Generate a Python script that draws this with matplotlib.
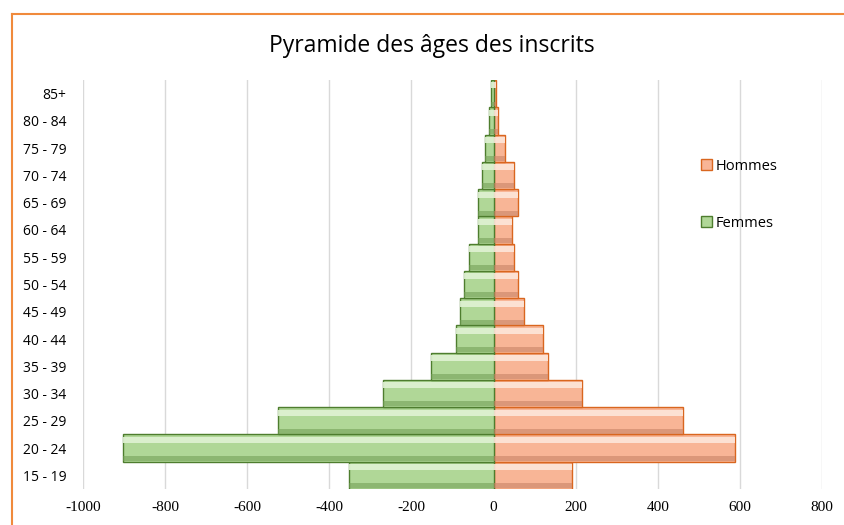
import matplotlib
matplotlib.use("Agg")
from matplotlib import pyplot as plt
from matplotlib.lines import Line2D
import numpy as np

groupes = ["15 - 19", "20 - 24", "25 - 29", "30 - 34", "35 - 39", "40 - 44", "45 - 49",
           "50 - 54", "55 - 59", "60 - 64", "65 - 69", "70 - 74", "75 - 79", "80 - 84", "85+"]
hommes = [190, 588, 462, 215, 132, 120, 73, 59, 49, 44, 59, 49, 27, 12, 6]
femmes = [352, 903, 524, 269, 152, 91, 81, 73, 61, 37, 39, 29, 20, 12, 7]
xticks = [-1000, -800, -600, -400, -200, 0, 200, 400, 600, 800]

fig = plt.figure(figsize=(8.44, 5.25), dpi=100)
ax = fig.add_axes([0.0983, 0.0686, 0.8757, 0.779])

y = np.arange(len(groupes))
f = -np.array(femmes)
h = np.array(hommes)

# main bars
ax.barh(y, h, height=1.0, color="#F8B596", edgecolor="#D9661F", linewidth=1.0, zorder=3, label="Hommes")
ax.barh(y, f, height=1.0, color="#B0D797", edgecolor="#4E7D2E", linewidth=1.0, zorder=3, label="Femmes")
# bevel: light top strip, dark bottom strip
ax.barh(y + 0.3, h, height=0.22, color="#FDE6DA", linewidth=0, zorder=4, alpha=0.9)
ax.barh(y - 0.38, h, height=0.18, color="#C98466", linewidth=0, zorder=4, alpha=0.6)
ax.barh(y + 0.3, f, height=0.22, color="#E0F2D4", linewidth=0, zorder=4, alpha=0.9)
ax.barh(y - 0.38, f, height=0.18, color="#74A058", linewidth=0, zorder=4, alpha=0.6)

ax.set_xlim(-1000, 800)
ax.set_ylim(-0.5, len(groupes) - 0.5)
ax.set_xticks(xticks)
ax.set_xticklabels([str(v) for v in xticks], family="Liberation Serif", fontsize=11)
ax.set_yticks(y)
ax.set_yticklabels(groupes, family="Open Sans", fontsize=10)
ax.tick_params(length=0, pad=9)
ax.tick_params(axis="y", pad=12)
ax.grid(axis="x", color="#D9D9D9", linewidth=1, zorder=0)
for s in ax.spines.values():
    s.set_visible(False)

fig.text(0.512, 0.913, "Pyramide des âges des inscrits", ha="center", va="center",
         family="Open Sans", fontsize=16.5)

ax.legend(loc="upper left", bbox_to_anchor=(0.818, 0.84), frameon=False,
          prop={"family": "Open Sans", "size": 10.5}, labelspacing=2.9,
          handlelength=0.75, handleheight=0.75, handletextpad=0.3)

# orange chart frame
fig.add_artist(Line2D([12 / 844, 1], [1 - 14 / 525, 1 - 14 / 525], color="#F08A3C", linewidth=1.5))
fig.add_artist(Line2D([12 / 844, 12 / 844], [0, 1 - 14 / 525], color="#F08A3C", linewidth=1.5))

fig.savefig("out.png", dpi=100)
